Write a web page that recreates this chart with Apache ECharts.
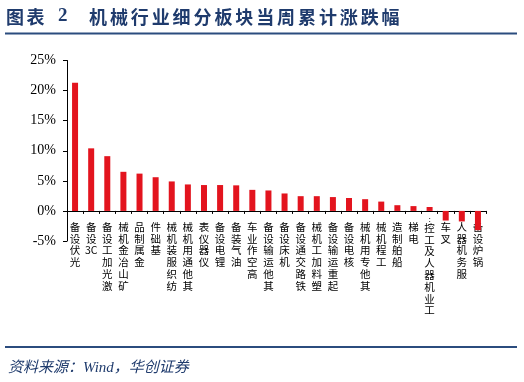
<!DOCTYPE html>
<html><head><meta charset="utf-8">
<script src="https://cdn.jsdelivr.net/npm/echarts@6/dist/echarts.min.js"></script>
<style>html,body{margin:0;padding:0;background:#fff}#c{width:524px;height:382px}</style>
</head><body><div id="c"></div>
<script>
const categories = ['光伏设备','3C设备','激光加工设备','矿山冶金机械','金属制品','基础件','纺织服装机械','其他通用机械','仪器仪表','锂电设备','油气装备','高空作业车','其他运输设备','机床设备','铁路交通设备','塑料加工机械','起重运输设备','核电设备','其他专用机械','工程机械','船舶制造','电梯','工业机器人及工控…','叉车','服务机器人','锅炉设备'];
const values = [21.3,10.4,9.1,6.5,6.2,5.6,4.9,4.4,4.3,4.3,4.25,3.5,3.4,2.9,2.45,2.45,2.3,2.15,1.95,1.55,0.95,0.8,0.65,-1.6,-1.75,-3.2];
const yMin = -5, yMax = 25, yStep = 5;
const titleLabel = '图表', titleNum = '2', titleText = '机械行业细分板块当周累计涨跌幅';
const sourceText = '资料来源：Wind，华创证券';

const navy = '#1f3b6d';
function vertLabel(s){
  const toks = s.match(/[A-Za-z0-9]+|./gu).reverse();
  return toks.map(t => t === '…' ? '{e|⋮}' : '{c|' + t + '}').join('\n');
}
const graphics = [];
[...titleLabel].forEach((ch,i)=>graphics.push({type:'text',left:6+i*20.5,top:8,style:{text:ch,font:'bold 18px "Noto Sans CJK SC"',fill:navy}}));
graphics.push({type:'text',left:58,top:7,style:{text:titleNum,font:'bold 19px "Liberation Serif"',fill:navy}});
[...titleText].forEach((ch,i)=>graphics.push({type:'text',left:89+i*20.9,top:8,style:{text:ch,font:'bold 18px "Noto Sans CJK SC"',fill:navy}}));
graphics.push({type:'rect',shape:{x:5,y:32.5,width:512,height:2},style:{fill:'#2b4c7e'}});
graphics.push({type:'rect',shape:{x:5,y:346,width:512,height:2},style:{fill:'#2b4c7e'}});
graphics.push({type:'text',left:8,top:361,style:{text:sourceText,font:'italic 15px "Liberation Serif", "Noto Sans CJK SC"',fill:navy}});

const chart = echarts.init(document.getElementById('c'), null, {renderer:'canvas'});
chart.setOption({
  animation:false,
  backgroundColor:'#fff',
  grid:{left:67,right:38,top:60.5,bottom:141,containLabel:false},
  xAxis:{type:'category',data:categories,
    axisLine:{onZero:true,lineStyle:{color:'#000',width:1}},
    axisTick:{show:true,alignWithLabel:false,length:3,inside:false,lineStyle:{color:'#000'}},
    axisLabel:{interval:0,hideOverlap:false,margin:-20,color:'#000',fontSize:10.5,lineHeight:11.8,
      fontFamily:'"Noto Sans CJK SC"',verticalAlign:'top',formatter:vertLabel,
      rich:{c:{fontSize:10.5,lineHeight:11.8,color:'#000',fontFamily:'"Noto Sans CJK SC"'},
            e:{fontSize:8,lineHeight:1,color:'#000',fontFamily:'"DejaVu Sans"'}}}},
  yAxis:{type:'value',min:yMin,max:yMax,interval:yStep,
    axisLine:{show:true,lineStyle:{color:'#000',width:1}},
    axisTick:{show:true,length:4,lineStyle:{color:'#000'}},
    splitLine:{show:false},
    axisLabel:{formatter:'{value}%',color:'#000',fontSize:14,fontFamily:'"Liberation Serif"',margin:11}},
  series:[{type:'bar',data:values,barWidth:6,itemStyle:{color:'#e3141e'}}],
  graphic:graphics
});
</script></body></html>
